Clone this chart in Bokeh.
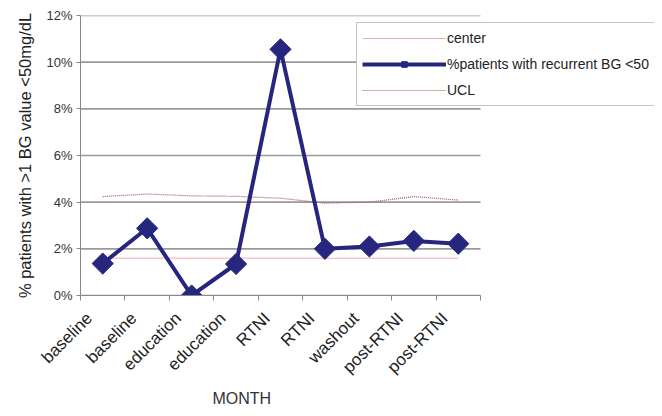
import math
from bokeh.plotting import figure
from bokeh.models import (Range1d, FixedTicker, CustomJSTickFormatter, PrintfTickFormatter,
                          Legend, LegendItem, Title)
from bokeh.embed import file_html
from bokeh.resources import INLINE

# ---- data ----
months = ["baseline", "baseline", "education", "education", "RTNI", "RTNI",
          "washout", "post-RTNI", "post-RTNI"]
pct_recurrent = [1.37, 2.88, 0.0, 1.35, 10.55, 2.0, 2.1, 2.34, 2.22]
center = [1.6, 1.6, 1.6, 1.6, 1.6, 1.6, 1.6, 1.6, 1.6]
ucl = [4.24, 4.35, 4.27, 4.25, 4.17, 3.96, 4.0, 4.24, 4.09]
y_ticks = [0, 2, 4, 6, 8, 10, 12]

FONT = "Liberation Sans"
n = len(months)
xs = [i + 0.5 for i in range(n)]
label_pos = [i + 0.2 for i in range(n)]   # rotated labels end a little left of centre

# frame spans 574px; the category axis occupies the first 400px of it,
# leaving room for the legend which overlaps the right of the plot area
FRAME_W = 574
AXIS_W = 400
x_end = n * FRAME_W / AXIS_W

p = figure(width=654, height=408, output_backend="svg", toolbar_location=None,
           x_range=Range1d(0, x_end), y_range=Range1d(0, 12),
           min_border_left=80, min_border_right=0, min_border_top=15,
           min_border_bottom=112)
p.outline_line_color = None
p.background_fill_color = "white"
p.border_fill_color = "white"

# grid (horizontal lines limited to the category axis extent)
p.xgrid.grid_line_color = None
p.ygrid.grid_line_color = None
p.segment(x0=[0] * len(y_ticks), x1=[n] * len(y_ticks), y0=y_ticks, y1=y_ticks,
          line_color="#9a9a9a", line_width=1.6)

# y axis
p.yaxis.ticker = FixedTicker(ticks=y_ticks)
p.yaxis.formatter = PrintfTickFormatter(format="%d%%")
p.yaxis.axis_label = "% patients with >1 BG value <50mg/dL"
p.yaxis.axis_label_text_font = FONT
p.yaxis.axis_label_text_font_size = "16.5px"
p.yaxis.axis_label_text_font_style = "normal"
p.yaxis.axis_label_text_color = "#222222"
p.yaxis.major_label_text_font = FONT
p.yaxis.major_label_text_font_size = "13px"
p.yaxis.major_label_text_color = "#333333"
p.yaxis.axis_line_color = "#888888"
p.yaxis.major_tick_line_color = "#888888"
p.yaxis.major_tick_out = 4
p.yaxis.major_tick_in = 0
p.yaxis.minor_tick_line_color = None
p.yaxis.major_label_standoff = 4
p.yaxis.axis_label_standoff = 9

# x axis
p.xaxis.bounds = (0, n)
p.xaxis.ticker = FixedTicker(ticks=label_pos, minor_ticks=list(range(n + 1)))
p.xaxis.formatter = CustomJSTickFormatter(args=dict(labels=months),
                                          code="return labels[Math.floor(tick)] || '';")
p.xaxis.major_label_orientation = math.pi / 4
p.xaxis.major_label_text_font = FONT
p.xaxis.major_label_text_font_size = "17px"
p.xaxis.major_label_text_color = "#222222"
p.xaxis.major_tick_out = 0
p.xaxis.major_tick_in = 0
p.xaxis.minor_tick_out = 5
p.xaxis.minor_tick_in = 0
p.xaxis.minor_tick_line_color = "#888888"
p.xaxis.axis_line_color = "#888888"
p.xaxis.major_label_standoff = 15

p.add_layout(Title(text="MONTH", align="left", offset=132, standoff=3,
                   text_font=FONT, text_font_size="16px", text_font_style="normal",
                   text_color="#333333"), "below")

# series
r_center = p.line(xs, center, line_color="#f2a9bd", line_width=1)
r_ucl = p.line(xs, ucl, line_color="#a85a5a", line_width=1.2, line_dash="1 1")
r_main = p.line(xs, pct_recurrent, line_color="#26267f", line_width=4)
r_mark = p.scatter(xs, pct_recurrent, marker="square", angle=math.pi / 4, size=15,
                   fill_color="#26267f", line_color="#26267f")

legend = Legend(items=[
    LegendItem(label="center", renderers=[r_center]),
    LegendItem(label="%patients with recurrent BG <50", renderers=[r_main, r_mark]),
    LegendItem(label="UCL", renderers=[r_ucl]),
], location=(276, 189))
legend.label_text_font = FONT
legend.label_text_font_size = "14px"
legend.label_text_color = "#222222"
legend.glyph_width = 84
legend.glyph_height = 14
legend.label_height = 20
legend.spacing = 6
legend.padding = 5
legend.margin = 0
legend.label_standoff = 1
legend.border_line_color = "#8a8a8a"
legend.border_line_width = 1.5
legend.background_fill_color = "white"
legend.background_fill_alpha = 1.0
p.add_layout(legend, "center")

open("out.html", "w").write(file_html(p, INLINE))
